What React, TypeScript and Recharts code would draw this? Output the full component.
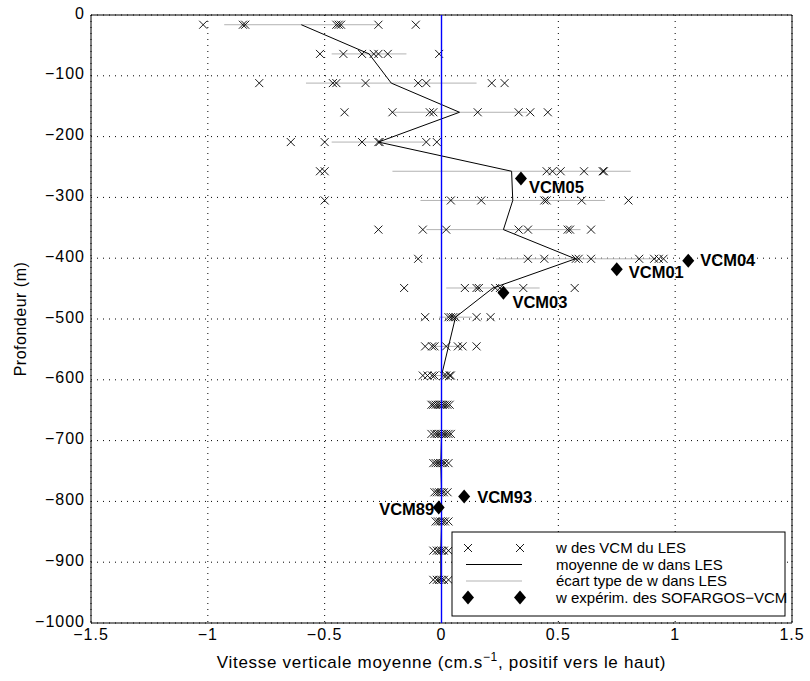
import React from 'react';
import { ComposedChart, Scatter, XAxis, YAxis, CartesianGrid, ErrorBar } from 'recharts';

// Depth levels of the LES (m)
const depths = [-16, -64, -112, -160, -209, -257, -305, -353, -401, -449, -497, -545, -593, -641, -689, -737, -785, -833, -881, -929];

// w of the LES VCMs at each depth (cm/s)
const lesW: number[][] = [
  [-1.02, -0.85, -0.84, -0.45, -0.44, -0.43, -0.27, -0.11],
  [-0.52, -0.42, -0.34, -0.29, -0.27, -0.23, -0.01],
  [-0.78, -0.465, -0.45, -0.325, -0.10, -0.065, 0.215, 0.27],
  [-0.415, -0.21, -0.05, -0.035, 0.155, 0.33, 0.38, 0.455],
  [-0.645, -0.50, -0.34, -0.27, -0.265, -0.065, -0.02],
  [-0.52, -0.50, 0.45, 0.475, 0.51, 0.61, 0.69, 0.695],
  [-0.50, 0.04, 0.17, 0.44, 0.45, 0.60, 0.80],
  [-0.27, -0.08, 0.02, 0.33, 0.37, 0.54, 0.55, 0.64],
  [-0.10, 0.37, 0.44, 0.575, 0.587, 0.64, 0.846, 0.91, 0.93, 0.95],
  [-0.16, 0.10, 0.15, 0.16, 0.23, 0.25, 0.35, 0.57],
  [-0.07, 0.03, 0.04, 0.05, 0.06, 0.15, 0.21],
  [-0.07, -0.04, -0.03, 0.02, 0.07, 0.09, 0.15],
  [-0.08, -0.06, -0.04, -0.03, 0.01, 0.02, 0.035, 0.04],
  [-0.043, -0.035, -0.025, -0.015, -0.005, 0.005, 0.015, 0.025, 0.035],
  [-0.043, -0.03, -0.02, -0.01, 0.0, 0.01, 0.02, 0.03, 0.04],
  [-0.035, -0.025, -0.015, -0.005, 0.005, 0.015, 0.03],
  [-0.03, -0.02, -0.01, 0.0, 0.01, 0.026],
  [-0.025, -0.015, -0.005, 0.005, 0.015, 0.03],
  [-0.035, -0.02, -0.01, 0.0, 0.01, 0.03],
  [-0.035, -0.02, -0.01, 0.0, 0.01, 0.03],
];

// mean and standard deviation of w in the LES
const meanW = [-0.60, -0.31, -0.215, 0.077, -0.27, 0.30, 0.305, 0.265, 0.573, 0.22, 0.06, 0.03, 0.0, 0.0, 0.0, -0.003, 0.0, 0.0, -0.003, -0.003];
const stdW = [0.33, 0.16, 0.365, 0.29, 0.20, 0.51, 0.395, 0.33, 0.34, 0.20, 0.07, 0.06, 0.045, 0.025, 0.025, 0.02, 0.02, 0.02, 0.02, 0.02];

// SOFARGOS-VCM experimental values
const vcmNames = ['VCM05', 'VCM04', 'VCM01', 'VCM03', 'VCM93', 'VCM89'];
const vcmW = [0.34, 1.056, 0.75, 0.265, 0.097, -0.012];
const vcmDepth = [-269, -404, -418, -457, -792, -810];

// zero-velocity reference line (w = 0 from surface to bottom)
const zeroLineW = [0, 0];
const zeroLineZ = [0, -1000];

const xTicks = [-1.5, -1, -0.5, 0, 0.5, 1, 1.5];
const yTicks = [0, -100, -200, -300, -400, -500, -600, -700, -800, -900, -1000];

const FONT = '"Liberation Sans", Arial, Helvetica, sans-serif';

const lesData = depths.flatMap((z, i) => lesW[i].map((w) => ({ w, z })));
const meanData = depths.map((z, i) => ({ w: meanW[i], z, err: stdW[i] }));
const vcmData = vcmNames.map((name, i) => ({ name, w: vcmW[i], z: vcmDepth[i] }));
const zeroData = zeroLineW.map((w, i) => ({ w, z: zeroLineZ[i] }));

const fmt = (v: number) => String(v).replace('-', '\u2212');

const labelStyle: Record<string, [number, number, 'start' | 'end']> = {
  VCM05: [8, 14.5, 'start'],
  VCM03: [9, 15.5, 'start'],
  VCM01: [12, 9, 'start'],
  VCM04: [12, 5.5, 'start'],
  VCM93: [13, 6.5, 'start'],
  VCM89: [-4.5, 7.5, 'end'],
};

const CrossShape = (p: any) => {
  const { cx, cy } = p;
  if (cx == null || cy == null) return <g />;
  const s = 4;
  return (
    <path
      d={`M${cx - s},${cy - s}L${cx + s},${cy + s}M${cx + s},${cy - s}L${cx - s},${cy + s}`}
      stroke="#000"
      strokeWidth={0.9}
      fill="none"
    />
  );
};

const DiamondShape = (p: any) => {
  const { cx, cy, payload } = p;
  if (cx == null || cy == null) return <g />;
  const st = labelStyle[payload.name] || [10, 5, 'start'];
  return (
    <g>
      <polygon points={`${cx},${cy - 7} ${cx + 6},${cy} ${cx},${cy + 7} ${cx - 6},${cy}`} fill="#000" />
      <text x={cx + st[0]} y={cy + st[1]} textAnchor={st[2]} fontFamily={FONT} fontWeight="bold" fontSize={16.5} fill="#000">
        {payload.name}
      </text>
    </g>
  );
};

const NoShape = () => <g />;

const BottomTick = (p: any) => {
  const { x, y, payload } = p;
  return (
    <text x={x} y={y} dy="0.71em" textAnchor="middle" fontFamily={FONT} fontSize={16} letterSpacing={1} fill="#000">
      {fmt(payload.value)}
    </text>
  );
};

const LeftTick = (p: any) => {
  const { x, y, payload } = p;
  return (
    <text x={x + 1} y={y - 2} dy="0.355em" textAnchor="end" fontFamily={FONT} fontSize={16} letterSpacing={1} fill="#000">
      {fmt(payload.value)}
    </text>
  );
};

const XLabel = (p: any) => {
  const vb = p.viewBox || {};
  return (
    <text x={vb.x + vb.width / 2} y={vb.y + 45} textAnchor="middle" fontFamily={FONT} fontSize={17} letterSpacing={0.7} fill="#000">
      Vitesse verticale moyenne (cm.s
      <tspan dy={-7} fontSize={12}>{'\u22121'}</tspan>
      <tspan dy={7}>, positif vers le haut)</tspan>
    </text>
  );
};

const YLabel = (p: any) => {
  const vb = p.viewBox || {};
  const cy = vb.y + vb.height / 2;
  return (
    <text x={26} y={cy} textAnchor="middle" transform={`rotate(-90 26 ${cy})`} fontFamily={FONT} fontSize={16} letterSpacing={0.5} fill="#000">
      Profondeur (m)
    </text>
  );
};

const legendItems = [
  'w des VCM du LES',
  'moyenne de w dans LES',
  '\u00e9cart type de w dans LES',
  'w exp\u00e9rim. des SOFARGOS\u2212VCM',
];

const LegendBox = () => {
  const rows = [17, 33.5, 50, 66.5];
  const cross = (cx: number, cy: number) => (
    <path d={`M${cx - 4},${cy - 4}L${cx + 4},${cy + 4}M${cx + 4},${cy - 4}L${cx - 4},${cy + 4}`} stroke="#000" strokeWidth={0.9} fill="none" />
  );
  const diamond = (cx: number, cy: number) => (
    <polygon points={`${cx},${cy - 7} ${cx + 6},${cy} ${cx},${cy + 7} ${cx - 6},${cy}`} fill="#000" />
  );
  return (
    <svg width={336} height={86} style={{ position: 'absolute', left: 451, top: 531 }}>
      <rect x={1} y={1} width={333} height={84} fill="#fff" stroke="#000" strokeWidth={1} />
      {cross(17, rows[0])}
      {cross(69, rows[0])}
      <line x1={15} x2={71} y1={rows[1]} y2={rows[1]} stroke="#000" strokeWidth={1} />
      <line x1={15} x2={71} y1={rows[2]} y2={rows[2]} stroke="#b3b3b3" strokeWidth={1} />
      {diamond(17, rows[3])}
      {diamond(69, rows[3])}
      {legendItems.map((t, i) => (
        <text key={t} x={105} y={rows[i] + 5} fontFamily={FONT} fontSize={15} fill="#000">
          {t}
        </text>
      ))}
    </svg>
  );
};

export default function App() {
  return (
    <div style={{ position: 'relative', width: 810, height: 681, background: '#fff' }}>
      <style>{'body{margin:0;background:#fff}'}</style>
      <ComposedChart width={810} height={681} margin={{ top: 15, right: 18, bottom: 0, left: 0 }}>
        <CartesianGrid xAxisId="x" yAxisId="y" stroke="#000" strokeDasharray="1 5" />
        <XAxis
          xAxisId="x"
          type="number"
          dataKey="w"
          domain={[-1.5, 1.5]}
          ticks={xTicks}
          interval={0}
          allowDataOverflow
          height={58}
          tickLine={false}
          axisLine={false}
          tickSize={0}
          tickMargin={6}
          tick={<BottomTick />}
          label={<XLabel />}
        />
        <XAxis xAxisId="xb" orientation="bottom" mirror type="number" domain={[-1.5, 1.5]} ticks={xTicks} interval={0} allowDataOverflow tick={false} tickSize={7} stroke="#000" />
        <XAxis xAxisId="xt" orientation="top" mirror type="number" domain={[-1.5, 1.5]} ticks={xTicks} interval={0} allowDataOverflow tick={false} tickSize={7} stroke="#000" />
        <YAxis
          yAxisId="y"
          type="number"
          dataKey="z"
          domain={[-1000, 0]}
          ticks={yTicks}
          interval={0}
          allowDataOverflow
          width={91}
          tickLine={false}
          axisLine={false}
          tickSize={0}
          tickMargin={7}
          tick={<LeftTick />}
          label={<YLabel />}
        />
        <YAxis yAxisId="yl" orientation="left" mirror type="number" domain={[-1000, 0]} ticks={yTicks} interval={0} allowDataOverflow tick={false} tickSize={7} stroke="#000" />
        <YAxis yAxisId="yr" orientation="right" mirror type="number" domain={[-1000, 0]} ticks={yTicks} interval={0} allowDataOverflow tick={false} tickSize={7} stroke="#000" />

        <Scatter
          xAxisId="x"
          yAxisId="y"
          data={meanData}
          line={{ stroke: '#000', strokeWidth: 1 }}
          shape={<NoShape />}
          isAnimationActive={false}
        >
          <ErrorBar dataKey="err" direction="x" width={0} stroke="#b3b3b3" strokeWidth={1} isAnimationActive={false} />
        </Scatter>
        <Scatter xAxisId="x" yAxisId="y" data={lesData} shape={<CrossShape />} isAnimationActive={false} />
        <Scatter
          xAxisId="x"
          yAxisId="y"
          data={zeroData}
          line={{ stroke: '#0000ff', strokeWidth: 1.4 }}
          shape={<NoShape />}
          isAnimationActive={false}
        />
        <Scatter xAxisId="x" yAxisId="y" data={vcmData} shape={<DiamondShape />} isAnimationActive={false} />
      </ComposedChart>
      <LegendBox />
    </div>
  );
}
